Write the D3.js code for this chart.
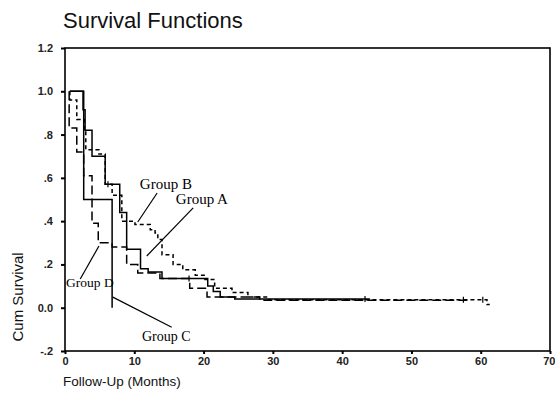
<!DOCTYPE html>
<html>
<head>
<meta charset="utf-8">
<script src="https://cdn.jsdelivr.net/npm/d3@7"></script>
<style>
  body { margin: 0; background: #fff; }
  svg { display: block; }
</style>
</head>
<body>
<div id="chart"></div>
<script>
// Survival step data (months, cumulative survival after each step)
const groupATime = [0.7, 2.6, 2.9, 3.9, 5.8, 7.9, 8.9, 10.9, 12.0, 14.0, 20.6, 21.4, 22.4, 24.5, 44.0];
const groupASurv = [1.0, 0.915, 0.82, 0.70, 0.57, 0.44, 0.27, 0.18, 0.165, 0.135, 0.10, 0.075, 0.05, 0.04, 0.04];

const groupBTime = [0.7, 0.7, 1.7, 2.8, 3.0, 4.9, 5.8, 6.8, 8.2, 10.1, 12.3, 13.0, 13.4, 14.0, 15.6, 17.0, 18.8, 20.2, 21.6, 24.1, 26.4, 29.3, 60.9, 61.3];
const groupBSurv = [1.0, 0.96, 0.87, 0.82, 0.73, 0.71, 0.57, 0.52, 0.40, 0.385, 0.36, 0.345, 0.315, 0.245, 0.20, 0.175, 0.15, 0.13, 0.09, 0.07, 0.05, 0.037, 0.015, 0.015];

const groupCTime = [0.7, 2.7, 6.8];
const groupCSurv = [1.0, 0.5, 0.0];

const groupDTime = [0.6, 0.6, 1.7, 2.7, 3.9, 4.8, 6.8, 8.9, 10.5, 13.7, 18.0, 20.5, 28.1, 58.4];
const groupDSurv = [1.0, 0.83, 0.72, 0.61, 0.39, 0.30, 0.28, 0.20, 0.16, 0.135, 0.09, 0.05, 0.035, 0.035];

// censored observations (months)
const groupACensor = [17.9, 43.3];
const groupBCensor = [6.2, 57.5, 60.3];

const xTicks = [0, 10, 20, 30, 40, 50, 60, 70];
const yTicks = [-0.2, 0, 0.2, 0.4, 0.6, 0.8, 1.0, 1.2];
const yTickLabels = ["-.2", "0.0", ".2", ".4", ".6", ".8", "1.0", "1.2"];

const width = 555, height = 412;
const svg = d3.select("#chart").append("svg")
    .attr("width", width)
    .attr("height", height);

const x = d3.scaleLinear().domain([0, 70]).range([65, 550]);
const y = d3.scaleLinear().domain([-0.2, 1.2]).range([351, 48]);

// title
svg.append("text")
    .attr("x", 63).attr("y", 28)
    .attr("font-family", "Liberation Sans, Arial, sans-serif")
    .attr("font-size", 22)
    .attr("fill", "#111")
    .text("Survival Functions");

// frame
svg.append("rect")
    .attr("x", x(0)).attr("y", y(1.2))
    .attr("width", x(70) - x(0)).attr("height", y(-0.2) - y(1.2))
    .attr("fill", "none").attr("stroke", "#000").attr("stroke-width", 1.6);

// axes
const yAxis = svg.append("g")
    .attr("transform", `translate(${x(0)},0)`)
    .call(d3.axisLeft(y).tickValues(yTicks).tickSize(4).tickPadding(8)
        .tickFormat((d, i) => yTickLabels[i]));
const xAxis = svg.append("g")
    .attr("transform", `translate(0,${y(-0.2)})`)
    .call(d3.axisBottom(x).tickValues(xTicks).tickSize(3).tickPadding(3));

[xAxis, yAxis].forEach(ax => {
    ax.select(".domain").remove();
    ax.selectAll(".tick line").attr("stroke", "#000").attr("stroke-width", 2);
    ax.selectAll("text")
        .attr("font-family", "Liberation Sans, Arial, sans-serif")
        .attr("font-size", 11)
        .attr("font-weight", "bold")
        .attr("fill", "#222");
});
// last x label sits at the right edge of the page
xAxis.selectAll(".tick text").filter(d => d === 70)
    .attr("text-anchor", "end").attr("x", 5);

// axis titles
svg.append("text")
    .attr("transform", `translate(23,${y(0.05)}) rotate(-90)`)
    .attr("text-anchor", "middle")
    .attr("font-family", "Liberation Sans, Arial, sans-serif")
    .attr("font-size", 15)
    .attr("fill", "#111")
    .text("Cum Survival");

svg.append("text")
    .attr("x", 63).attr("y", 386)
    .attr("font-family", "Liberation Sans, Arial, sans-serif")
    .attr("font-size", 13.5)
    .attr("fill", "#111")
    .text("Follow-Up (Months)");

// curves
const step = d3.line().x(d => x(d[0])).y(d => y(d[1])).curve(d3.curveStepAfter);
const groups = [
    { t: groupATime, s: groupASurv, dash: null },
    { t: groupCTime, s: groupCSurv, dash: null },
    { t: groupBTime, s: groupBSurv, dash: "4,3" },
    { t: groupDTime, s: groupDSurv, dash: "9,4" }
];
groups.forEach(g => {
    const pts = g.t.map((t, i) => [t, g.s[i]]);
    svg.append("path")
        .datum(pts)
        .attr("fill", "none")
        .attr("stroke", "#000")
        .attr("stroke-width", 1.5)
        .attr("stroke-dasharray", g.dash)
        .attr("d", step);
});

// censor ticks
function survAt(times, survs, t) {
    let s = survs[0];
    times.forEach((tt, i) => { if (tt <= t) s = survs[i]; });
    return s;
}
[[groupACensor, groupATime, groupASurv], [groupBCensor, groupBTime, groupBSurv]].forEach(([cs, ts, ss]) => {
    svg.selectAll(null).data(cs).enter().append("line")
        .attr("x1", d => x(d)).attr("x2", d => x(d))
        .attr("y1", d => y(survAt(ts, ss, d)) - 3)
        .attr("y2", d => y(survAt(ts, ss, d)) + 3)
        .attr("stroke", "#000").attr("stroke-width", 1.2);
});

// group labels with leader lines (data units)
const labels = [
    { text: "Group B", tx: 10.8, ty: 0.549, x1: 13.3, y1: 0.53, x2: 10.5, y2: 0.396, size: 15 },
    { text: "Group A", tx: 16.0, ty: 0.479, x1: 18.5, y1: 0.461, x2: 11.8, y2: 0.239, size: 15 },
    { text: "Group D", tx: 0.15, ty: 0.096, x1: 2.2, y1: 0.133, x2: 4.9, y2: 0.285, size: 13.5 },
    { text: "Group C", tx: 11.1, ty: -0.154, x1: 6.9, y1: 0.049, x2: 15.4, y2: -0.09, size: 14 }
];
labels.forEach(l => {
    svg.append("line")
        .attr("x1", x(l.x1)).attr("y1", y(l.y1))
        .attr("x2", x(l.x2)).attr("y2", y(l.y2))
        .attr("stroke", "#000").attr("stroke-width", 1.2);
    svg.append("text")
        .attr("x", x(l.tx)).attr("y", y(l.ty))
        .attr("font-family", "Liberation Serif, Times New Roman, serif")
        .attr("font-size", l.size)
        .attr("fill", "#000")
        .text(l.text);
});
</script>
</body>
</html>
